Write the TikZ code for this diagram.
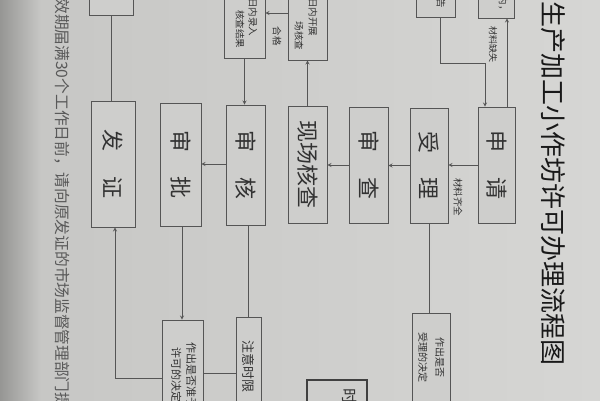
\documentclass[tikz,border=0pt]{standalone}
\usepackage{fontspec}
\setmainfont{Noto Sans CJK SC}
\usetikzlibrary{positioning}
\definecolor{paper}{RGB}{198,198,196}
\definecolor{paperlight}{RGB}{214,214,212}
\definecolor{paperedge}{RGB}{150,150,148}
\definecolor{boxfill}{RGB}{206,206,204}
\definecolor{ink}{RGB}{50,50,50}
\definecolor{wire}{RGB}{85,85,85}
\newcommand{\vt}[1]{\rotatebox{-90}{#1}}
\newcommand{\vtt}[2]{\rotatebox{-90}{\begin{tabular}{@{}c@{}}#1\\#2\end{tabular}}}
\tikzset{
  flowbox/.style={draw=wire, fill=boxfill, line width=0.9pt, inner sep=0pt},
  bigtxt/.style={font=\fontsize{22}{22}\selectfont, text=ink},
  smalltxt/.style={font=\fontsize{10}{17}\selectfont, text=ink},
  lab/.style={font=\fontsize{9}{9}\selectfont, text=ink, rotate=-90, inner sep=0pt},
  conn/.style={draw=wire, line width=0.8pt},
}
\begin{document}
\begin{tikzpicture}[x=1pt, y=-1pt, >=stealth]
\useasboundingbox (0,0) rectangle (600,400);
% paper
\shade[left color=paper, right color=paperlight] (0,0) rectangle (600,400);
\shade[left color=paperedge, right color=paper] (0,0) rectangle (40,400);

% title and note
\node[rotate=-90, inner sep=0pt, font=\fontsize{26}{26}\selectfont, text=black!90] (title) at (553,183) {生产加工小作坊许可办理流程图};
\node[rotate=-90, anchor=west, inner sep=0pt, font=\fontsize{15.7}{15.7}\selectfont, text=black!65] (note) at (62,-1.8) {效期届满30个工作日前，请向原发证的市场监督管理部门提};

% top row (cut off)
\node[flowbox, minimum width=44pt, minimum height=55pt] (topA) at (111,-12.5) {};
\node[flowbox, minimum width=41pt, minimum height=98pt] (luru) at (244.5,9) {};
\node[lab, font=\fontsize{9.5}{9.5}\selectfont] (luruA) at (253,17) {日内录入};
\node[lab, font=\fontsize{9.5}{9.5}\selectfont] (luruB) at (240,29) {核查结果};
\node[flowbox, minimum width=39pt, minimum height=100pt] (kaizhan) at (307.5,10) {};
\node[lab, font=\fontsize{9.5}{9.5}\selectfont] (kaizhanA) at (313,17) {日内开展};
\node[lab, font=\fontsize{9.5}{9.5}\selectfont] (kaizhanB) at (299,36) {场核查};
\node[flowbox, minimum width=39pt, minimum height=57pt] (gaozhi) at (435.5,-11.5) {};
\node[lab, font=\fontsize{9.5}{9.5}\selectfont] (gaozhiA) at (441,3) {告};
\node[flowbox, minimum width=36pt, minimum height=58pt] (buzheng) at (496,-11) {};
\node[lab, font=\fontsize{9.5}{9.5}\selectfont] (buzhengA) at (503,5) {内，};

% main row
\node[flowbox, bigtxt, minimum width=37pt, minimum height=116pt] (shenqing) at (496.5,165) {\vt{申\hspace{25pt}请}};
\node[flowbox, bigtxt, minimum width=38pt, minimum height=115pt] (shouli) at (429,165.5) {\vt{受\hspace{25pt}理}};
\node[flowbox, bigtxt, minimum width=39pt, minimum height=116pt] (shencha) at (368.5,165) {\vt{审\hspace{25pt}查}};
\node[flowbox, bigtxt, minimum width=39pt, minimum height=117pt] (xianchang) at (307.5,164.5) {\vt{现场核查}};
\node[flowbox, bigtxt, minimum width=39pt, minimum height=120pt] (shenhe) at (245.5,165) {\vt{审\hspace{25pt}核}};
\node[flowbox, bigtxt, minimum width=41pt, minimum height=123pt] (shenpi) at (180.5,164.5) {\vt{审\hspace{25pt}批}};
\node[flowbox, bigtxt, minimum width=44pt, minimum height=126pt] (fazheng) at (113,164) {\vt{发\hspace{25pt}证}};

% bottom row (cut off)
\node[flowbox, smalltxt, minimum width=38pt, minimum height=88pt] (shouliJD) at (431,357) {\vtt{作出是否}{受理的决定}};
\node[flowbox, font=\fontsize{11}{15}\selectfont, text=ink, minimum width=41pt, minimum height=110pt] (zhunyu) at (182.5,375) {\vtt{作出是否准予}{许可的决定}};
\node[flowbox, font=\fontsize{13}{13}\selectfont, text=ink, minimum width=25pt, minimum height=98pt] (zhuyi) at (248.5,366) {\vt{注意时限}};
\node[flowbox, draw=black!75, line width=1.5pt, minimum width=60pt, minimum height=50pt] (shi) at (337,405) {};
\node[lab, font=\fontsize{16}{16}\selectfont] (shiA) at (350,396) {时};

% connectors
\draw[conn,->] ([xshift=10.5pt]shenqing.north) -- ([xshift=10.5pt]shenqing.north |- buzheng.south);
\node[lab] (queshi) at (493,44) {材料缺失};
\draw[conn,->] ([xshift=4.5pt]gaozhi.south) -- ++(0,46) -| ([xshift=-11.5pt]shenqing.north);
\draw[conn,->] (shenqing.west) -- (shenqing.west -| shouli.east);
\node[lab, font=\fontsize{9.5}{9.5}\selectfont] (qiquan) at (458,197) {材料齐全};
\draw[conn,->] (shouli.west) -- (shouli.west -| shencha.east);
\draw[conn,->] (shencha.west) -- (shencha.west -| xianchang.east);
\draw[conn,->] (xianchang.north) -- (xianchang.north |- kaizhan.south);
\draw[conn,->] (kaizhan.west |- 0,13) -- (luru.east |- 0,13);
\node[lab, font=\fontsize{9.5}{9.5}\selectfont] (hege) at (277,36) {合格};
\draw[conn,->] (luru.south) -- (luru.south |- shenhe.north);
\draw[conn,->] (shenhe.west |- 0,164) -- (shenpi.east |- 0,164);
\draw[conn,->] ([xshift=1.5pt]shenpi.south) -- ([xshift=1.5pt]shenpi.south |- zhunyu.north);
\draw[conn] (topA.south) -- (topA.south |- fazheng.north);
\draw[conn] (shouli.south) -- (shouli.south |- shouliJD.north);
\draw[conn] (zhuyi.north) -- (zhuyi.north |- shenhe.south);
\draw[conn] (zhuyi.west |- 0,373) -- (zhunyu.east |- 0,373);
\draw[conn,->] (zhunyu.west |- 0,378) -| ([xshift=2pt]fazheng.south);
\end{tikzpicture}
\end{document}
